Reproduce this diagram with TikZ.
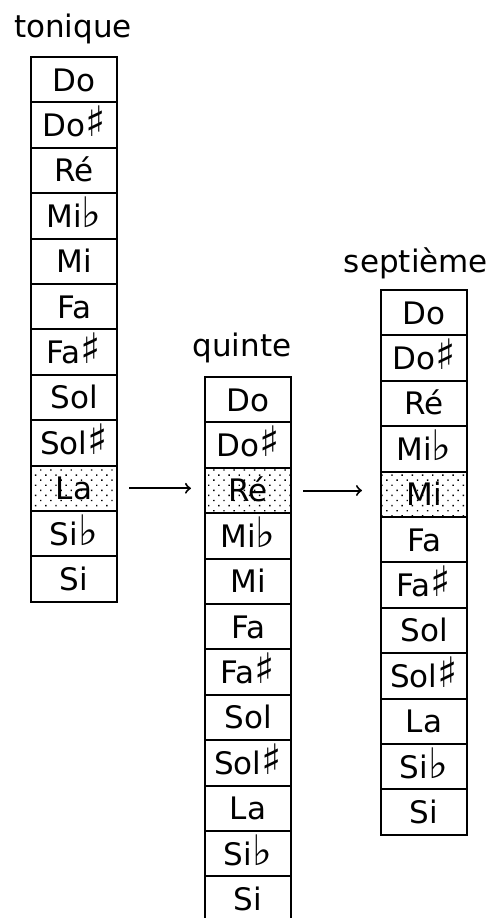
\documentclass[tikz,border=0pt]{standalone}
\usepackage{fontspec}
\setmainfont{DejaVu Sans}
\usetikzlibrary{patterns.meta}
\newcommand{\diese}{{\fontsize{21}{18}\selectfont ♯}}
\newcommand{\bemol}{{\fontsize{21}{18}\selectfont ♭}}

\begin{document}
\begin{tikzpicture}[x=0.5pt, y=-0.5pt, >=to, every node/.style={font=\fontsize{15.5}{18}\selectfont},
  cell/.style={draw, line width=1pt, minimum width=43pt, minimum height=22.7pt, inner sep=0pt, outer sep=0pt,
    text height=11.3pt, text depth=0pt},
  hl/.style={pattern={Dots[distance=3.6pt, radius=0.5pt, angle=45]}}]
\useasboundingbox (0,0) rectangle (492,918);
\foreach \c/\x/\y/\h in {t/74/57/9, q/248/377/2, s/424/290/4} {
  \foreach \n [count=\i from 0] in {Do,Do\diese,Ré,Mi\bemol,Mi,Fa,Fa\diese,Sol,Sol\diese,La,Si\bemol,Si} {
    \ifnum\i=\h \def\st{hl}\else\def\st{}\fi
    \node[cell,\st] (\c\i) at (\x,{\y+22.7+45.4*\i}) {\n};
  }
}
\node[anchor=base] (tonique) at (73,37) {tonique};
\node[anchor=base] (quinte) at (242,356) {quinte};
\node[anchor=base] (septieme) at (416,272) {septième};
\draw[->, line width=1pt, shorten <=6pt, shorten >=7pt] (t9.east) -- (t9.east -| q2.west);
\draw[->, line width=1pt, shorten <=6pt, shorten >=9.5pt] (q2.east) -- (q2.east -| s4.west);
\end{tikzpicture}
\end{document}
